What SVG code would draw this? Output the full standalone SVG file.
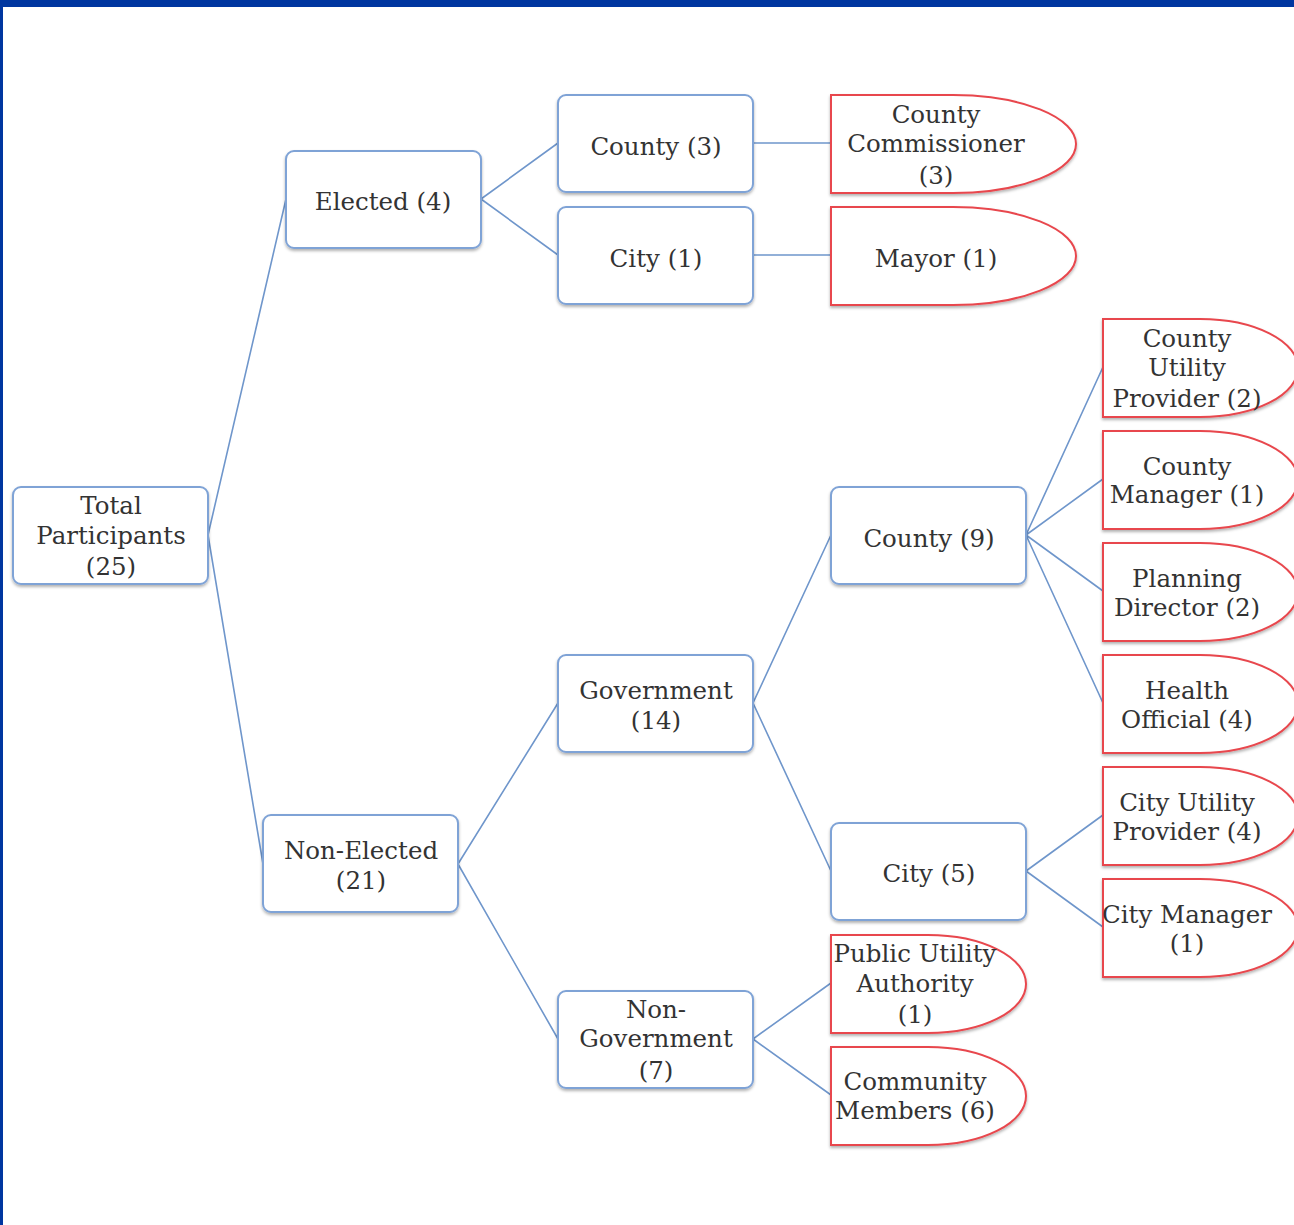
<svg xmlns="http://www.w3.org/2000/svg" width="1294" height="1225" viewBox="0 0 1294 1225">
<defs>
<filter id="sh" x="-10%" y="-10%" width="120%" height="130%">
<feDropShadow dx="0" dy="2" stdDeviation="1.5" flood-color="#000" flood-opacity="0.3"/>
</filter>
<style>
.b{fill:#fff;stroke:#7fa3d6;stroke-width:2;filter:url(#sh)}
.r{fill:#fff;stroke:#e8474d;stroke-width:2;filter:url(#sh)}
.t{font-family:"DejaVu Serif","Liberation Serif",serif;font-size:24.5px;fill:#333;text-anchor:middle}
.c{stroke:#6f96cb;stroke-width:1.6;fill:none}
</style>
</defs>
<rect x="0" y="0" width="1294" height="1225" fill="#fff"/>
<rect x="0" y="0" width="1294" height="7" fill="#0036a0"/>
<rect x="0" y="0" width="3" height="1225" fill="#0036a0"/>
<g id="connectors">
<path class="c" d="M208 535L286 199M208 535L263 864M481 199L558 143M481 199L558 255M753 143H831M753 255H831M458 864L558 703M458 864L558 1039M753 703L831 535M753 703L831 871M1026 535L1103 367M1026 535L1103 479M1026 535L1103 591M1026 535L1103 703M1026 871L1103 815M1026 871L1103 927M753 1039L831 983M753 1039L831 1095"/>
</g>
<g id="total"><rect class="b" x="13" y="487" width="195" height="97" rx="8"/><text class="t" x="111"><tspan x="111" y="514">Total</tspan><tspan x="111" y="544">Participants</tspan><tspan x="111" y="575">(25)</tspan></text></g>
<g id="elected"><rect class="b" x="286" y="151" width="195" height="97" rx="8"/><text class="t" x="383" y="210">Elected (4)</text></g>
<g id="county3"><rect class="b" x="558" y="95" width="195" height="97" rx="8"/><text class="t" x="656" y="155">County (3)</text></g>
<g id="city1"><rect class="b" x="558" y="207" width="195" height="97" rx="8"/><text class="t" x="656" y="267">City (1)</text></g>
<g id="commissioner"><path class="r" d="M831 95H953A123 49 0 0 1 953 193H831Z"/><text class="t"><tspan x="936" y="123">County</tspan><tspan x="936" y="152">Commissioner</tspan><tspan x="936" y="184">(3)</tspan></text></g>
<g id="mayor"><path class="r" d="M831 207H953A123 49 0 0 1 953 305H831Z"/><text class="t" x="936" y="267">Mayor (1)</text></g>
<g id="nonelected"><rect class="b" x="263" y="815" width="195" height="97" rx="8"/><text class="t"><tspan x="361" y="859">Non-Elected</tspan><tspan x="361" y="889">(21)</tspan></text></g>
<g id="government"><rect class="b" x="558" y="655" width="195" height="97" rx="8"/><text class="t"><tspan x="656" y="699">Government</tspan><tspan x="656" y="729">(14)</tspan></text></g>
<g id="nongov"><rect class="b" x="558" y="991" width="195" height="97" rx="8"/><text class="t"><tspan x="656" y="1018">Non-</tspan><tspan x="656" y="1047">Government</tspan><tspan x="656" y="1079">(7)</tspan></text></g>
<g id="county9"><rect class="b" x="831" y="487" width="195" height="97" rx="8"/><text class="t" x="929" y="547">County (9)</text></g>
<g id="city5"><rect class="b" x="831" y="823" width="195" height="97" rx="8"/><text class="t" x="929" y="882">City (5)</text></g>
<g id="cup"><path class="r" d="M1103 319H1200A98 49 0 0 1 1200 417H1103Z"/><text class="t"><tspan x="1187" y="347">County</tspan><tspan x="1187" y="376">Utility</tspan><tspan x="1187" y="407">Provider (2)</tspan></text></g>
<g id="cmgr"><path class="r" d="M1103 431H1200A98 49 0 0 1 1200 529H1103Z"/><text class="t"><tspan x="1187" y="475">County</tspan><tspan x="1187" y="503">Manager (1)</tspan></text></g>
<g id="planning"><path class="r" d="M1103 543H1200A98 49 0 0 1 1200 641H1103Z"/><text class="t"><tspan x="1187" y="587">Planning</tspan><tspan x="1187" y="616">Director (2)</tspan></text></g>
<g id="health"><path class="r" d="M1103 655H1200A98 49 0 0 1 1200 753H1103Z"/><text class="t"><tspan x="1187" y="699">Health</tspan><tspan x="1187" y="728">Official (4)</tspan></text></g>
<g id="cityup"><path class="r" d="M1103 767H1200A98 49 0 0 1 1200 865H1103Z"/><text class="t"><tspan x="1187" y="811">City Utility</tspan><tspan x="1187" y="840">Provider (4)</tspan></text></g>
<g id="citymgr"><path class="r" d="M1103 879H1200A98 49 0 0 1 1200 977H1103Z"/><text class="t"><tspan x="1187" y="923">City Manager</tspan><tspan x="1187" y="952">(1)</tspan></text></g>
<g id="pua"><path class="r" d="M831 935H928A98 49 0 0 1 928 1033H831Z"/><text class="t"><tspan x="915" y="962">Public Utility</tspan><tspan x="915" y="992">Authority</tspan><tspan x="915" y="1023">(1)</tspan></text></g>
<g id="community"><path class="r" d="M831 1047H928A98 49 0 0 1 928 1145H831Z"/><text class="t"><tspan x="915" y="1090">Community</tspan><tspan x="915" y="1119">Members (6)</tspan></text></g>
</svg>
